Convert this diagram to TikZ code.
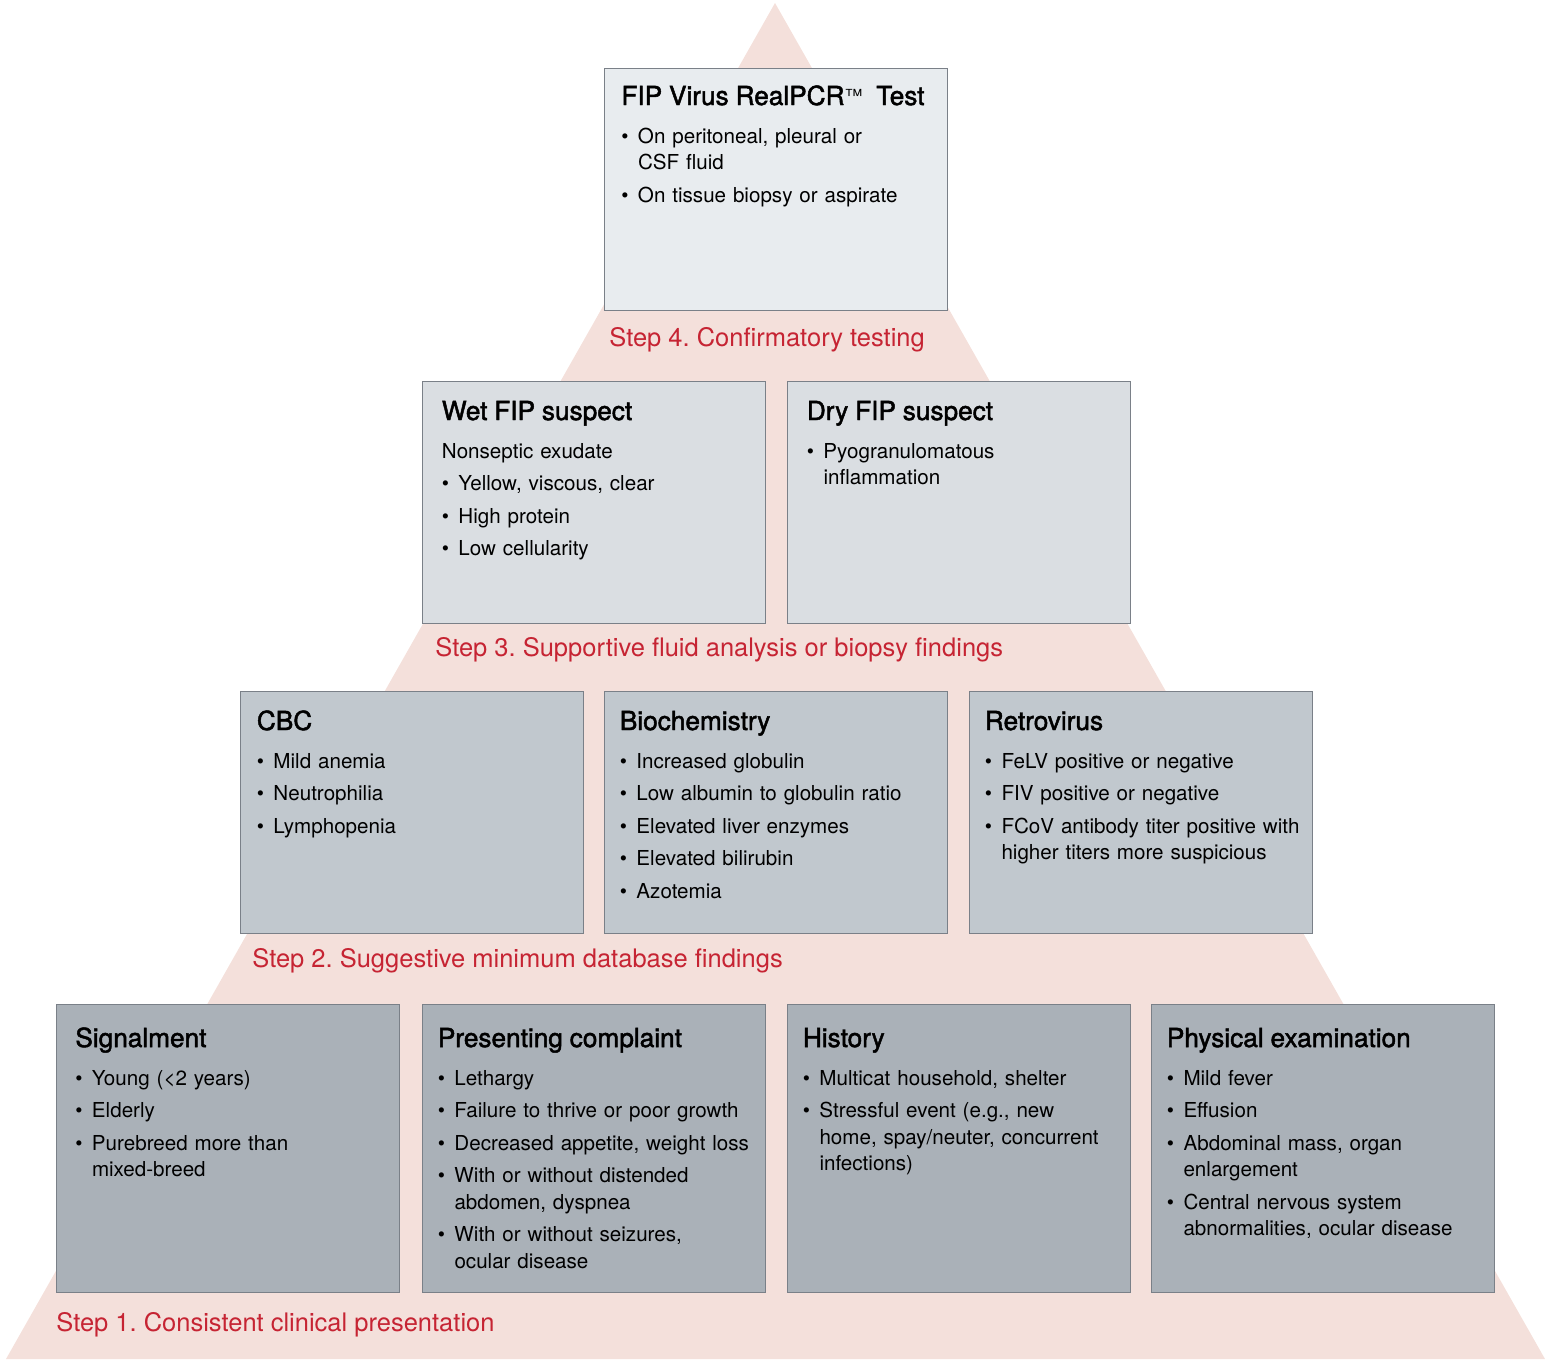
\documentclass[tikz,border=0pt]{standalone}
\usepackage{fontspec}
\setmainfont{TeX Gyre Heros}
\newfontfamily\ttlfont{TeX Gyre Heros}[FakeBold=1.8]
\usepackage{tikz}
\frenchspacing

\definecolor{pyramid}{RGB}{244,224,219}
\definecolor{boxline}{RGB}{122,128,136}
\definecolor{boxA}{RGB}{232,236,239}
\definecolor{boxB}{RGB}{218,222,226}
\definecolor{boxC}{RGB}{193,200,206}
\definecolor{boxD}{RGB}{170,177,184}
\definecolor{stepred}{RGB}{198,36,51}

\newcommand{\boxtitle}[1]{{\ttlfont\fontsize{13.1}{15}\selectfont #1\par}\vspace{2.75pt}}
\newcommand{\bitem}[1]{\par\noindent\hangindent=8.3pt\hangafter=1\makebox[8.3pt][l]{\textbullet}#1\par}

\begin{document}
\begin{tikzpicture}[x=0.5pt, y=-0.5pt,
    fipbox/.style={draw=boxline, line width=0.6pt, anchor=north west,
        minimum width=171.5pt, minimum height=121pt, inner sep=0pt},
    tall/.style={minimum height=144pt},
    boxtext/.style={anchor=base west, inner sep=0pt, text width=166pt, align=left,
        font=\fontsize{10.3}{13.25}\selectfont,
        execute at begin node={\setlength{\parskip}{3pt}}},
    steplabel/.style={anchor=base west, inner sep=0pt, text=stepred,
        font=\fontsize{12.75}{15}\selectfont}]
    \useasboundingbox (0,0) rectangle (1556,1359);

    % background pyramid
    \fill[pyramid] (775,3) -- (1545,1359) -- (6,1359) -- cycle;

    % step 4
    \node[fipbox, fill=boxA] (pcr) at (604,68) {};
    \node[boxtext] (pcr-txt) at ([shift={(17,37)}]pcr.north west) {%
        \boxtitle{FIP Virus RealPCR{\normalfont\fontsize{9}{9}\selectfont\raisebox{1.5pt}{™}}\ \ Test}
        \bitem{On peritoneal, pleural or\newline CSF fluid}
        \bitem{On tissue biopsy or aspirate}};
    \node[steplabel] (step4) at (609,346) {Step 4. Confirmatory testing};

    % step 3
    \node[fipbox, fill=boxB] (wet) at (422,381) {};
    \node[boxtext] (wet-txt) at ([shift={(19.5,39)}]wet.north west) {%
        \boxtitle{Wet FIP suspect}
        \par\noindent Nonseptic exudate
        \bitem{Yellow, viscous, clear}
        \bitem{High protein}
        \bitem{Low cellularity}};

    \node[fipbox, fill=boxB] (dry) at (787,381) {};
    \node[boxtext] (dry-txt) at ([shift={(19.5,39)}]dry.north west) {%
        \boxtitle{Dry FIP suspect}
        \bitem{Pyogranulomatous\newline inflammation}};
    \node[steplabel] (step3) at (435,656) {Step 3. Supportive fluid analysis or biopsy findings};

    % step 2
    \node[fipbox, fill=boxC] (cbc) at (240,691) {};
    \node[boxtext] (cbc-txt) at ([shift={(16.5,39)}]cbc.north west) {%
        \boxtitle{CBC}
        \bitem{Mild anemia}
        \bitem{Neutrophilia}
        \bitem{Lymphopenia}};

    \node[fipbox, fill=boxC] (bio) at (604,691) {};
    \node[boxtext] (bio-txt) at ([shift={(15.5,39)}]bio.north west) {%
        \boxtitle{Biochemistry}
        \bitem{Increased globulin}
        \bitem{Low albumin to globulin ratio}
        \bitem{Elevated liver enzymes}
        \bitem{Elevated bilirubin}
        \bitem{Azotemia}};

    \node[fipbox, fill=boxC] (retro) at (969,691) {};
    \node[boxtext] (retro-txt) at ([shift={(15.5,39)}]retro.north west) {%
        \boxtitle{Retrovirus}
        \bitem{FeLV positive or negative}
        \bitem{FIV positive or negative}
        \bitem{FCoV antibody titer positive with\newline higher titers more suspicious}};
    \node[steplabel] (step2) at (252,967) {Step 2. Suggestive minimum database findings};

    % step 1
    \node[fipbox, tall, fill=boxD] (sig) at (56,1004) {};
    \node[boxtext] (sig-txt) at ([shift={(19,43)}]sig.north west) {%
        \boxtitle{Signalment}
        \bitem{Young (<2 years)}
        \bitem{Elderly}
        \bitem{Purebreed more than\newline mixed-breed}};

    \node[fipbox, tall, fill=boxD] (comp) at (422,1004) {};
    \node[boxtext] (comp-txt) at ([shift={(15.5,43)}]comp.north west) {%
        \boxtitle{Presenting complaint}
        \bitem{Lethargy}
        \bitem{Failure to thrive or poor growth}
        \bitem{Decreased appetite, weight loss}
        \bitem{With or without distended\newline abdomen, dyspnea}
        \bitem{With or without seizures,\newline ocular disease}};

    \node[fipbox, tall, fill=boxD] (hist) at (787,1004) {};
    \node[boxtext] (hist-txt) at ([shift={(15.5,43)}]hist.north west) {%
        \boxtitle{History}
        \bitem{Multicat household, shelter}
        \bitem{Stressful event (e.g., new\newline home, spay/neuter, concurrent\newline infections)}};

    \node[fipbox, tall, fill=boxD] (phys) at (1151,1004) {};
    \node[boxtext] (phys-txt) at ([shift={(15.5,43)}]phys.north west) {%
        \boxtitle{Physical examination}
        \bitem{Mild fever}
        \bitem{Effusion}
        \bitem{Abdominal mass, organ\newline enlargement}
        \bitem{Central nervous system\newline abnormalities, ocular disease}};
    \node[steplabel] (step1) at (56,1331) {Step 1. Consistent clinical presentation};
\end{tikzpicture}
\end{document}
